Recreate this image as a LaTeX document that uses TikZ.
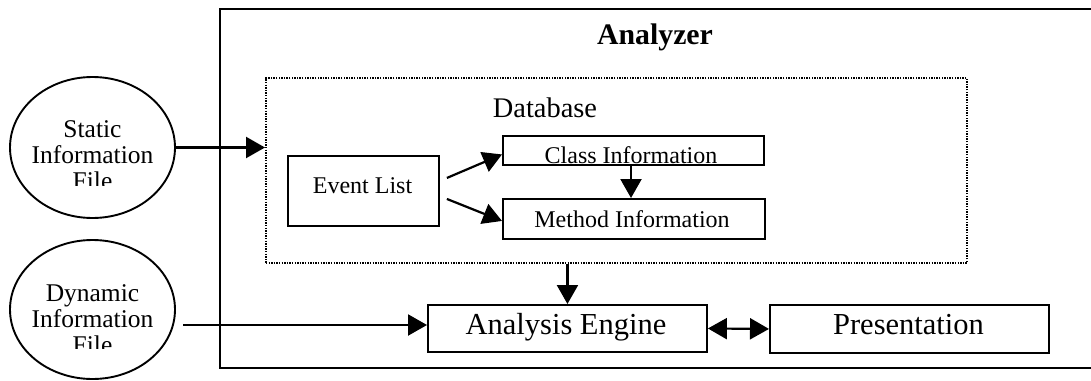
\documentclass[tikz,border=0pt]{standalone}
\usepackage{fontspec}
\setmainfont{Liberation Serif}
\usetikzlibrary{arrows.meta,shapes.geometric,calc}
\begin{document}
\begin{tikzpicture}[x=1pt,y=-1pt,
  boxline/.style={draw, line width=1.9pt, inner sep=0pt},
  blk/.style={boxline, rectangle},
  oval/.style={draw, line width=1.9pt, ellipse, inner sep=0pt},
  arr/.style={line width=2.2pt, -{Triangle[length=19pt,width=21pt]}},
  darr/.style={line width=2.2pt, {Triangle[length=19pt,width=21pt]}-{Triangle[length=19pt,width=21pt]}},
  txt/.style={inner sep=0pt, anchor=base},
  small/.style={font=\fontsize{24}{26}\selectfont},
  mid/.style={font=\fontsize{28.4}{30}\selectfont},
  big/.style={font=\fontsize{30.5}{32}\selectfont},
  ovaltxt/.style={font=\fontsize{25.5}{26}\selectfont}
]
\useasboundingbox (0,0) rectangle (1091,380);
\clip (0,0) rectangle (1091,380);
\fill[white] (0,0) rectangle (1091,380);

% outer Analyzer box (runs off the right edge)
\node[blk, anchor=north west, minimum width=900pt, minimum height=359pt] (ana) at (219,8) {};
\node[txt, font=\fontsize{29.8}{31}\selectfont\bfseries] (anatitle) at (655,44) {Analyzer};

% Database (dotted)
\node[rectangle, draw, line width=1.8pt, dash pattern=on 1.4pt off 1.2pt, inner sep=0pt,
      anchor=north west, minimum width=701pt, minimum height=185pt] (db) at (265,77) {};
\node[txt, mid] (dbtitle) at (545,117) {Database};

% Event list
\node[blk, anchor=north west, minimum width=151pt, minimum height=70pt] (evt) at (287,155) {};
\node[txt, small] (evttxt) at (362.5,193) {Event List};

% Class information
\node[blk, anchor=north west, minimum width=261pt, minimum height=29pt] (cls) at (502,135) {};
\node[txt, small] (clstxt) at (631,163) {Class Information};

% Method information
\node[blk, anchor=north west, minimum width=262pt, minimum height=40pt] (met) at (502,198) {};
\node[txt, small] (mettxt) at (632,227) {Method Information};

% Analysis Engine
\node[blk, anchor=north west, minimum width=279pt, minimum height=47pt] (eng) at (427,304) {};
\node[txt, big] (engtxt) at (566,334) {Analysis Engine};

% Presentation
\node[blk, anchor=north west, minimum width=279pt, minimum height=48pt] (pres) at (769,304) {};
\node[txt, big] (prestxt) at (908.5,334) {Presentation};

% Static information file
\node[oval, minimum width=165pt, minimum height=141pt] (stat) at (92.5,147.5) {};
\node[txt, ovaltxt] (st1) at (92.5,137) {Static};
\node[txt, ovaltxt] (st2) at (92.5,163) {Information};
\begin{scope}
  \clip (40,160) rectangle (150,185);
  \node[txt, ovaltxt] (st3) at (92.5,189.5) {File};
\end{scope}

% Dynamic information file
\node[oval, minimum width=165pt, minimum height=139pt] (dyn) at (92.5,309.5) {};
\node[txt, ovaltxt] (dy1) at (92.5,301) {Dynamic};
\node[txt, ovaltxt] (dy2) at (92.5,327) {Information};
\begin{scope}
  \clip (40,330) rectangle (150,348);
  \node[txt, ovaltxt] (dy3) at (92.5,353.5) {File};
\end{scope}

% connectors
\draw[arr] (stat.east) -- (stat.east -| db.west);
\coordinate (dynstart) at (183,325);
\draw[arr] (dynstart) -- (dynstart -| eng.west);
\draw[arr] ($(evt.east)+(7,-13)$) -- ($(cls.west)+(0,4)$);
\draw[arr] ($(evt.east)+(7,8)$) -- ($(met.west)+(0,2)$);
\draw[arr] (clstxt.base |- cls.south) -- (clstxt.base |- met.north);
\draw[arr] (eng.north |- db.south) -- (eng.north);
\draw[darr] (eng.east) -- (pres.west);
\end{tikzpicture}
\end{document}
